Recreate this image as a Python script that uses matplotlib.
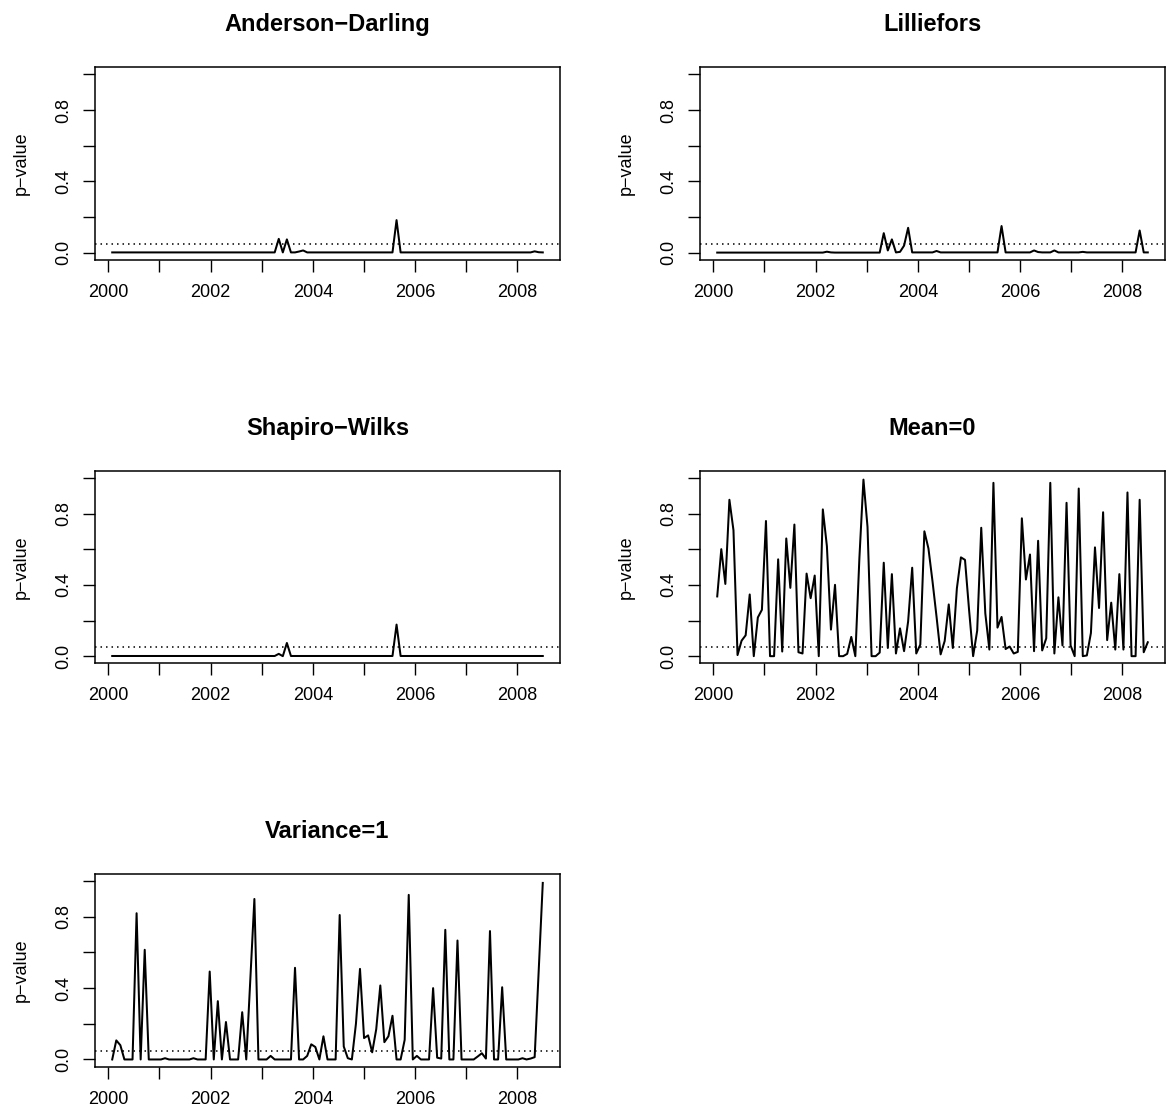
import matplotlib.pyplot as plt
import numpy as np

plt.rcParams['font.family'] = ['Liberation Sans', 'DejaVu Sans']

# sampling times (decimal years), 107 observations
t_start = 2000.078
t_step = 0.0794
t = t_start + t_step * np.arange(107)

anderson = ([0.002] * 41
            + [0.078, 0.002, 0.075, 0.002, 0.002, 0.007, 0.013, 0.002]
            + [0.002] * 21
            + [0.183, 0.002]
            + [0.002] * 32
            + [0.008, 0.003, 0.002])

lilliefors = ([0.001] * 27 + [0.006, 0.002] + [0.001] * 12
              + [0.11, 0.013, 0.075, 0.002, 0.005, 0.04, 0.14, 0.002]
              + [0.002] * 5 + [0.01] + [0.002] * 15
              + [0.15, 0.002]
              + [0.002] * 6 + [0.013, 0.004] + [0.002] * 3 + [0.013]
              + [0.002] * 6 + [0.005] + [0.002] * 13
              + [0.125, 0.002, 0.002])

shapiro = ([0.001] * 41
           + [0.013, 0.0, 0.074, 0.001]
           + [0.001] * 25
           + [0.177]
           + [0.001] * 36)

mean0 = [0.335, 0.60, 0.405, 0.877, 0.706, 0.006, 0.087, 0.117, 0.346, 0.0,
         0.217, 0.26, 0.758, 0.0, 0.0, 0.543, 0.026, 0.66, 0.383, 0.738,
         0.022, 0.015, 0.463, 0.325, 0.452, 0.0, 0.823, 0.617, 0.149, 0.40,
         0.0, 0.0, 0.013, 0.108, 0.0, 0.55, 0.99, 0.725, 0.0, 0.0,
         0.02, 0.524, 0.046, 0.46, 0.015, 0.156, 0.028, 0.195, 0.496, 0.015,
         0.065, 0.70, 0.604, 0.42, 0.22, 0.01, 0.085, 0.29, 0.046, 0.38,
         0.554, 0.54, 0.26, 0.0, 0.143, 0.72, 0.24, 0.037, 0.972, 0.16,
         0.22, 0.04, 0.054, 0.015, 0.024, 0.773, 0.43, 0.57, 0.028, 0.647,
         0.032, 0.10, 0.972, 0.015, 0.33, 0.06, 0.86, 0.06, 0.0, 0.94,
         0.0, 0.004, 0.13, 0.61, 0.27, 0.807, 0.09, 0.30, 0.037, 0.46,
         0.037, 0.918, 0.0, 0.0, 0.877, 0.022, 0.078]

variance1 = [0.0, 0.107, 0.08, 0.0, 0.0, 0.0, 0.82, 0.0, 0.615, 0.0,
             0.0, 0.0, 0.0, 0.007, 0.0, 0.0, 0.0, 0.0, 0.0, 0.0,
             0.007, 0.0, 0.0, 0.0, 0.493, 0.0, 0.327, 0.0, 0.21, 0.0,
             0.0, 0.0, 0.265, 0.0, 0.45, 0.90, 0.0, 0.0, 0.0, 0.02,
             0.0, 0.0, 0.0, 0.0, 0.0, 0.514, 0.0, 0.0, 0.02, 0.085,
             0.07, 0.0, 0.13, 0.0, 0.0, 0.0, 0.81, 0.073, 0.007, 0.0,
             0.2, 0.508, 0.12, 0.135, 0.04, 0.17, 0.415, 0.097, 0.13, 0.245,
             0.0, 0.0, 0.11, 0.923, 0.0, 0.02, 0.0, 0.0, 0.0, 0.40,
             0.01, 0.005, 0.727, 0.0, 0.0, 0.667, 0.0, 0.0, 0.0, 0.0,
             0.017, 0.035, 0.005, 0.72, 0.0, 0.0, 0.405, 0.0, 0.0, 0.0,
             0.0, 0.007, 0.0, 0.005, 0.013, 0.5, 0.99]

titles = ['Anderson\u2212Darling', 'Lilliefors', 'Shapiro\u2212Wilks',
          'Mean=0', 'Variance=1']
series = [anderson, lilliefors, shapiro, mean0, variance1]
alpha = 0.05

W, H = 1166, 1113
fig = plt.figure(figsize=(W / 100, H / 100), dpi=100)

# plot boxes in pixels (left, top)
boxes = [(95, 67.3), (700, 67.3), (95, 470.7), (700, 470.7), (95, 874)]
bw, bh = 465, 192.6

for (x0, y0), title, vals in zip(boxes, titles, series):
    ax = fig.add_axes([x0 / W, 1 - (y0 + bh) / H, bw / W, bh / H])
    ax.plot(t, vals, color='black', lw=1.45)
    ax.axhline(alpha, color='black', lw=1.1, linestyle=(0, (1, 2.6)))
    span = t[-1] - t[0]
    ax.set_xlim(t[0] - 0.04 * span, t[-1] + 0.04 * span)
    ax.set_ylim(-0.04, 1.04)
    years = np.arange(2000, 2009)
    ax.set_xticks(years)
    ax.set_xticklabels([str(y) if y % 2 == 0 else '' for y in years])
    yt = [0.0, 0.2, 0.4, 0.6, 0.8, 1.0]
    ax.set_yticks(yt)
    ax.set_yticklabels(['0.0', '', '0.4', '', '0.8', ''])
    ax.tick_params(axis='both', length=8.4, width=1.0, labelsize=13)
    ax.tick_params(axis='x', pad=9)
    ax.tick_params(axis='y', pad=8, labelrotation=90)
    for lab in ax.get_yticklabels():
        lab.set_va('center')
    for sp in ax.spines.values():
        sp.set_linewidth(1.1)
    ax.set_title(title, fontweight='bold', fontsize=17, pad=26)
    ax.set_ylabel('p\u2212value', fontsize=13)
    ax.yaxis.set_label_coords(-0.14, 0.5)

fig.savefig('out.png', dpi=100)
